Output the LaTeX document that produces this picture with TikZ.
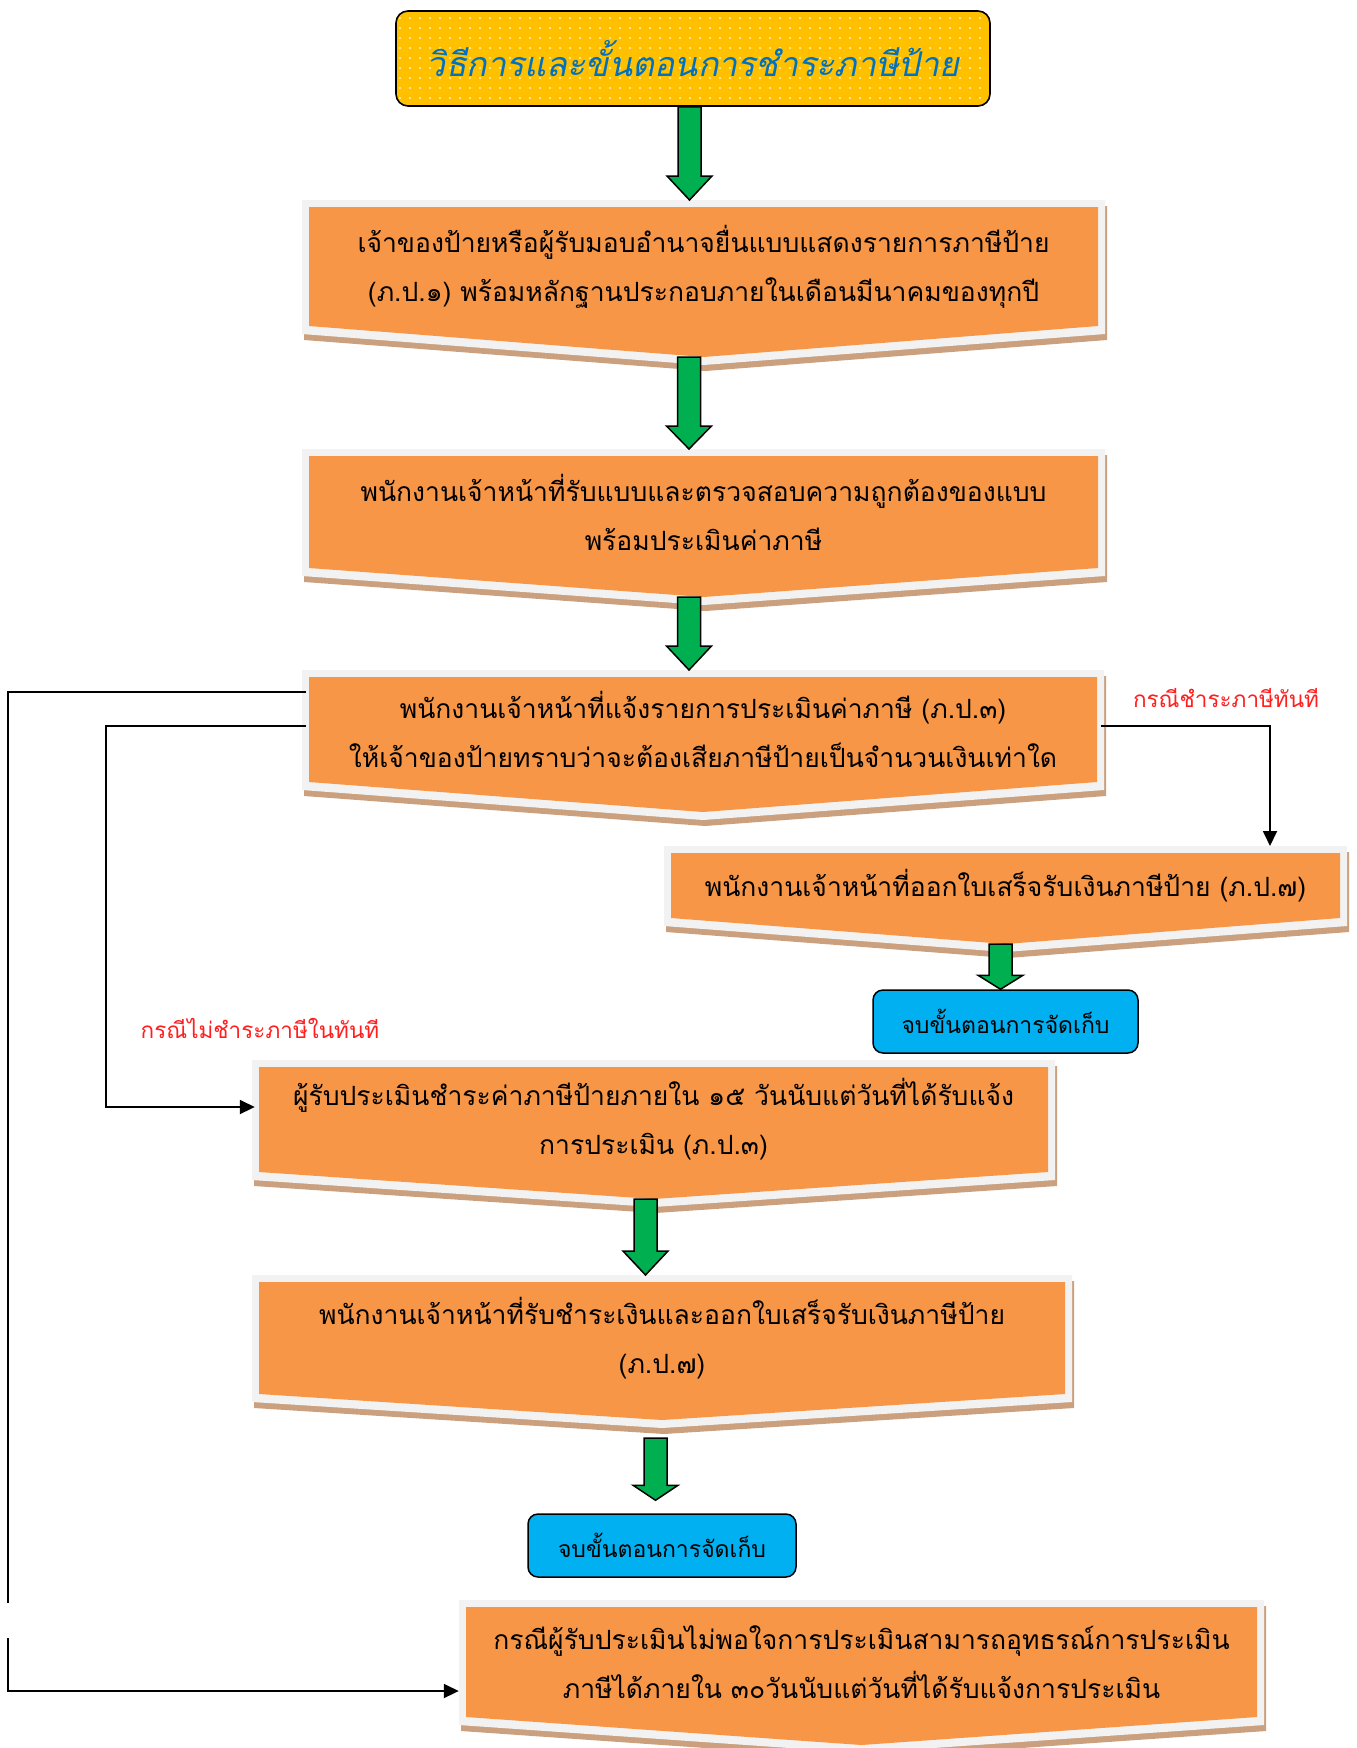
\documentclass[tikz,border=0pt]{standalone}
\usepackage{fontspec}
\usetikzlibrary{arrows.meta,calc,patterns.meta}
\newfontfamily\thaifont[Script=Thai]{Loma}
\newfontfamily\thaititle[Script=Thai,FakeSlant=0.2]{Loma}
\definecolor{boxfill}{HTML}{F79646}
\definecolor{boxrim}{HTML}{F2F2F2}
\definecolor{boxshadow}{HTML}{CBA07E}
\definecolor{arrowgreen}{HTML}{00B050}
\definecolor{endblue}{HTML}{00B0F0}
\definecolor{titleyellow}{HTML}{FFC000}
\definecolor{titleblue}{HTML}{0070C0}
\definecolor{notered}{HTML}{FF1F1F}
\tikzset{
  boxtext/.style={inner sep=0pt, align=center, font=\thaifont\fontsize{26.5}{49}\selectfont},
  endbox/.style={draw, line width=1.5pt, fill=endblue, rounded corners=10pt, inner sep=0pt,
    font=\thaifont\fontsize{23}{28}\selectfont},
  note/.style={text=notered, inner sep=0pt, font=\thaifont\fontsize{22.5}{28}\selectfont},
  link/.style={line width=1.8pt},
  linkarrow/.style={link, -{Triangle[length=15pt,width=14pt]}},
  greenarrow/.style={draw, line width=1.5pt, fill=arrowgreen, line join=miter}
}
% #1 name, #2 left, #3 right, #4 top, #5 side bottom, #6 tip, #7 text
\newcommand{\signbox}[7]{%
  \fill[boxshadow] (#2-7+2,#4-7+6) -- (#3+7+2,#4-7+6) -- (#3+7+2,#5+8+6) -- ({(#2+#3)/2+2},#6+8+6) -- (#2-7+2,#5+8+6) -- cycle;
  \fill[boxrim] (#2-7,#4-7) -- (#3+7,#4-7) -- (#3+7,#5+8) -- ({(#2+#3)/2},#6+8) -- (#2-7,#5+8) -- cycle;
  \fill[boxfill] (#2,#4) -- (#3,#4) -- (#3,#5) -- ({(#2+#3)/2},#6) -- (#2,#5) -- cycle;
  \node[boxtext, minimum width={(#3-#2)*1pt}, minimum height={(#5-#4)*1pt}] (#1) at ({(#2+#3)/2},{(#4+#5)/2}) {#7};
  \coordinate (#1-top) at ({(#2+#3)/2},#4-7);
  \coordinate (#1-tip) at ({(#2+#3)/2},#6);
}
% #1 from, #2 to, #3 x of the shaft, #4 head length
\newcommand{\blockarrow}[4]{%
  \draw[greenarrow] let \p1=(#1), \p2=(#2) in
    (#3pt-11.5pt,\y1) -- (#3pt+11.5pt,\y1) -- (#3pt+11.5pt,\y2+#4pt) -- (#3pt+22.5pt,\y2+#4pt)
    -- (#3pt,\y2) -- (#3pt-22.5pt,\y2+#4pt) -- (#3pt-11.5pt,\y2+#4pt) -- cycle;
}

\begin{document}
\begin{tikzpicture}[x=1pt,y=-1pt]
  \path[use as bounding box, fill=white] (0,0) rectangle (1357,1748);

  \node[draw, line width=1.6pt, rounded corners=12pt, minimum width=594pt, minimum height=95pt,
    preaction={fill=titleyellow}, pattern={Dots[distance=10pt,radius=1.1pt]}, pattern color=white!75!titleyellow,
    text=titleblue, font=\thaititle\fontsize{34}{40}\selectfont] (title) at (693,58.5) {วิธีการและขั้นตอนการชำระภาษีป้าย};

  \signbox{b1}{309}{1098}{207}{326}{357}{เจ้าของป้ายหรือผู้รับมอบอำนาจยื่นแบบแสดงรายการภาษีป้าย\\(ภ.ป.๑) พร้อมหลักฐานประกอบภายในเดือนมีนาคมของทุกปี}
  \signbox{b2}{309}{1098}{456}{568}{597}{พนักงานเจ้าหน้าที่รับแบบและตรวจสอบความถูกต้องของแบบ\\พร้อมประเมินค่าภาษี}
  \signbox{b3}{309}{1097}{677}{782}{812}{พนักงานเจ้าหน้าที่แจ้งรายการประเมินค่าภาษี (ภ.ป.๓)\\ให้เจ้าของป้ายทราบว่าจะต้องเสียภาษีป้ายเป็นจำนวนเงินเท่าใด}
  \signbox{b4}{671}{1340}{853}{918}{944}{พนักงานเจ้าหน้าที่ออกใบเสร็จรับเงินภาษีป้าย (ภ.ป.๗)}
  \signbox{b5}{259}{1048}{1067}{1172}{1199}{ผู้รับประเมินชำระค่าภาษีป้ายภายใน ๑๕ วันนับแต่วันที่ได้รับแจ้ง\\การประเมิน (ภ.ป.๓)}
  \signbox{b6}{259}{1065}{1282}{1394}{1420}{พนักงานเจ้าหน้าที่รับชำระเงินและออกใบเสร็จรับเงินภาษีป้าย\\(ภ.ป.๗)}
  \signbox{b7}{466}{1257}{1607}{1717}{1745}{กรณีผู้รับประเมินไม่พอใจการประเมินสามารถอุทธรณ์การประเมิน\\ภาษีได้ภายใน ๓๐วันนับแต่วันที่ได้รับแจ้งการประเมิน}

  \node[endbox, minimum width=265pt, minimum height=63pt] (end1) at (1005.5,1021.5) {จบขั้นตอนการจัดเก็บ};
  \node[endbox, minimum width=268pt, minimum height=63pt] (end2) at (662,1545.5) {จบขั้นตอนการจัดเก็บ};

  \node[note] (paynow) at (1226,698) {กรณีชำระภาษีทันที};
  \node[note] (paylater) at (260,1028) {กรณีไม่ชำระภาษีในทันที};

  \blockarrow{title.south}{b1-top}{689.5}{24}
  \blockarrow{b1-tip}{b2-top}{689}{23}
  \blockarrow{b2-tip}{b3-top}{689}{24}
  \blockarrow{b4-tip}{end1.north}{1000.5}{14}
  \blockarrow{b5-tip}{b6-top}{645.5}{24}
  \blockarrow{[yshift=-18pt]b6-tip}{[yshift=13pt]end2.north}{655.5}{15}

  \draw[linkarrow] ([xshift=4pt,yshift=3.5pt]b3.east) -| ([xshift=264.5pt]b4-top);
  \draw[linkarrow] ([xshift=-3pt,yshift=3.5pt]b3.west) -- ++(-200,0) |- ([xshift=-4pt,yshift=12.5pt]b5.west);
  \coordinate (gaptop) at (8,1603);
  \coordinate (gapbot) at (8,1638);
  \draw[link] ([xshift=-3pt,yshift=37.5pt]b3.west) -| (gaptop);
  \draw[linkarrow] (gapbot) |- ([xshift=-7pt,yshift=-29pt]b7.west);
\end{tikzpicture}
\end{document}
